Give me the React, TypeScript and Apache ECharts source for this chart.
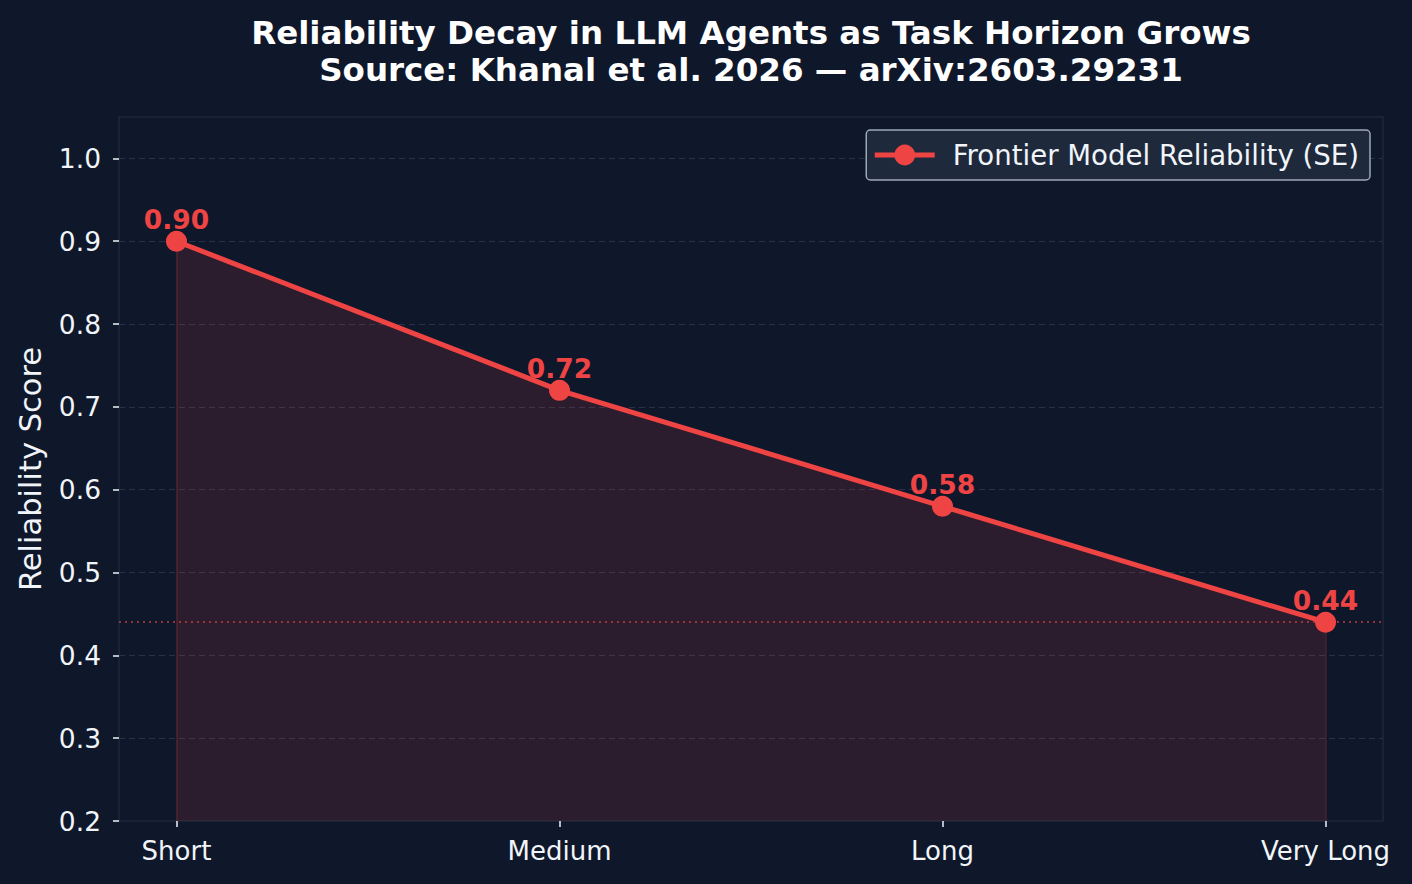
import React, { useEffect, useRef } from "react";
import * as echarts from "echarts";

// Task horizon categories and measured reliability
const horizons = ["Short", "Medium", "Long", "Very Long"];
const reliability = [0.9, 0.72, 0.58, 0.44];
const yTicks = [0.2, 0.3, 0.4, 0.5, 0.6, 0.7, 0.8, 0.9, 1.0];
const baselineValue = 0.44;
const yMin = 0.2;

const FONT = "DejaVu Sans";
const RED = "#ef4444";
const BG = "#0f172a";
const TEXT = "#f1f5f9";

const GRID_LEFT = 119;
const GRID_WIDTH = 1264;

export default function App() {
  const ref = useRef<HTMLDivElement>(null);

  useEffect(() => {
    if (!ref.current) return;
    const chart = echarts.init(ref.current, undefined, { renderer: "svg" });
    const xIdx = horizons.map((_, i) => i);
    const points = reliability.map((v, i) => [i, v]);
    const last = points.length - 1;

    // thin edges of the filled region at both ends
    const edgeLines = [0, last].map((i) => [
      { coord: [i, yMin] },
      { coord: [i, reliability[i]] },
    ]);

    chart.setOption({
      animation: false,
      backgroundColor: BG,
      textStyle: { fontFamily: FONT },
      title: {
        text: "Reliability Decay in LLM Agents as Task Horizon Grows\nSource: Khanal et al. 2026 — arXiv:2603.29231",
        // centred over the plot area rather than the whole canvas
        left: GRID_LEFT + GRID_WIDTH / 2 - 5,
        textAlign: "center",
        top: 9,
        padding: 5,
        textStyle: {
          color: "#ffffff",
          fontFamily: FONT,
          fontWeight: "bold",
          fontSize: 32.5,
          lineHeight: 37,
        },
      },
      legend: {
        right: 42,
        top: 130,
        backgroundColor: "#1e293b",
        borderColor: "rgba(203,213,225,0.75)",
        borderWidth: 1.5,
        borderRadius: 4,
        padding: [11, 11, 11, 6],
        itemWidth: 60,
        itemHeight: 26,
        lineStyle: { width: 5 },
        textStyle: {
          color: TEXT,
          fontSize: 27.6,
          fontFamily: FONT,
          padding: [0, 0, 0, 13],
        },
        data: ["Frontier Model Reliability (SE)"],
      },
      grid: {
        left: GRID_LEFT,
        top: 117,
        width: GRID_WIDTH,
        height: 704,
        show: true,
        borderColor: "#1e293b",
        borderWidth: 1.5,
        backgroundColor: BG,
      },
      xAxis: {
        type: "value",
        min: -0.15,
        max: 3.15,
        axisLine: { show: false, onZero: false },
        splitLine: { show: false },
        axisTick: {
          show: true,
          customValues: xIdx,
          length: 6,
          lineStyle: { color: TEXT, width: 1.5 },
        },
        axisLabel: {
          customValues: xIdx,
          margin: 17,
          color: TEXT,
          fontSize: 26,
          fontFamily: FONT,
          formatter: (v: number) => horizons[Math.round(v)] ?? "",
        },
      },
      yAxis: {
        type: "value",
        min: yMin,
        max: 1.05,
        interval: 0.1,
        name: "Reliability Score",
        nameLocation: "middle",
        nameGap: 73,
        nameTextStyle: { color: TEXT, fontSize: 30.5, fontFamily: FONT },
        axisLine: { show: false, onZero: false },
        axisTick: {
          show: true,
          customValues: yTicks,
          length: 6,
          lineStyle: { color: TEXT, width: 1.5 },
        },
        axisLabel: {
          customValues: yTicks,
          margin: 18,
          color: TEXT,
          fontSize: 26.5,
          fontFamily: FONT,
          formatter: (v: number) => v.toFixed(1),
        },
        splitLine: {
          show: true,
          showMinLine: false,
          lineStyle: { color: "#273246", type: [6, 4], width: 1.2 },
        },
      },
      series: [
        {
          name: "Frontier Model Reliability (SE)",
          type: "line",
          data: points,
          symbol: "circle",
          symbolSize: 21,
          itemStyle: { color: RED },
          lineStyle: { color: RED, width: 5 },
          areaStyle: { color: "rgba(239,68,68,0.18)", origin: "start" },
          label: {
            show: true,
            position: "top",
            distance: -2,
            color: RED,
            fontWeight: "bold",
            fontSize: 26.5,
            fontFamily: FONT,
            formatter: (p: any) => Number(p.value[1]).toFixed(2),
          },
          markLine: {
            silent: true,
            symbol: "none",
            label: { show: false },
            data: [
              {
                yAxis: baselineValue,
                lineStyle: { color: "rgba(239,68,68,0.6)", type: [2, 4], width: 2 },
              },
              ...edgeLines.map((pair) => [
                { ...pair[0], lineStyle: { color: "rgba(239,68,68,0.22)", type: "solid", width: 1.5 } },
                pair[1],
              ]),
            ],
          },
          z: 3,
        },
      ],
    });

    return () => chart.dispose();
  }, []);

  return (
    <div
      ref={ref}
      style={{ position: "fixed", left: 0, top: 0, width: 1412, height: 884 }}
    />
  );
}
